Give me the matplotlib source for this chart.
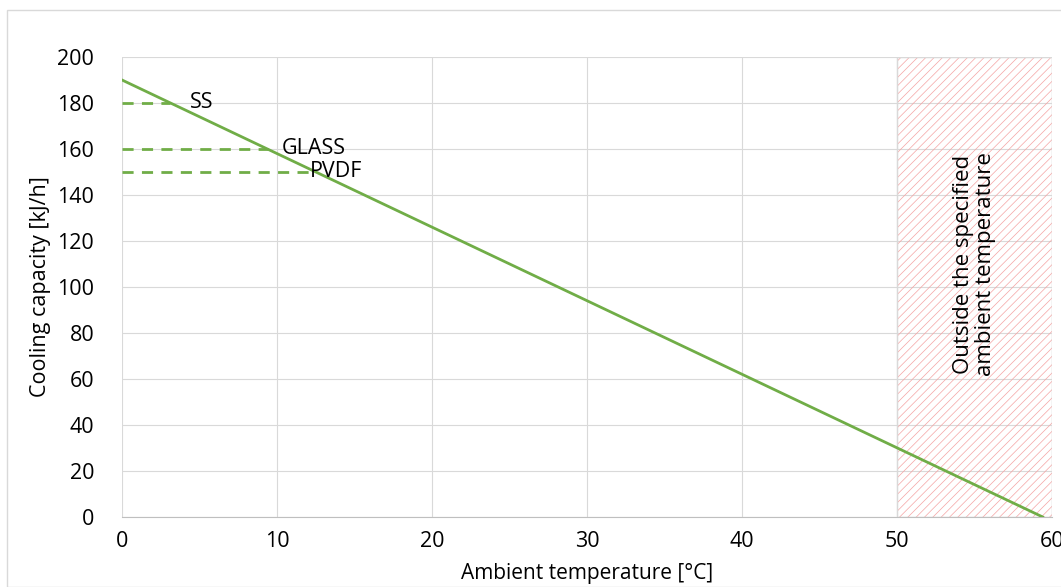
import matplotlib
matplotlib.use("Agg")
import matplotlib.pyplot as plt
from matplotlib.patches import Rectangle

plt.rcParams['font.family'] = ['Open Sans', 'DejaVu Sans']
plt.rcParams['hatch.linewidth'] = 0.5
plt.rcParams['hatch.color'] = '#f5a3a3'

# Data
temps = [0, 59.4]
capacity = [190, 0]
materials = ["SS", "GLASS", "PVDF"]
material_capacity = [180, 160, 150]
material_temp = [3.1, 9.4, 12.5]
label_x = [4.4, 10.3, 12.1]
outside_range = [50, 60]
xticks = [0, 10, 20, 30, 40, 50, 60]
yticks = list(range(0, 201, 20))

green = "#70ad47"

fig = plt.figure(figsize=(10.61, 5.87), dpi=100)
ax = fig.add_axes([0.115, 0.1193, 0.8765, 0.7836])

# frame around chart area
fig.patches.append(Rectangle((7/1061, 0), 1.0, 1 - 10/587, transform=fig.transFigure,
                             fill=False, edgecolor="#d9d9d9", linewidth=1.0))

# Hatched region
ax.axvspan(outside_range[0], outside_range[1], fill=False, edgecolor="#f5a3a3",
           hatch="////", linewidth=0, zorder=1)
ax.axvspan(outside_range[0], outside_range[1], fill=False, edgecolor="#d9d9d9",
           linewidth=1.0, zorder=1)

ax.plot(temps, capacity, color=green, linewidth=2, zorder=3)

for name, cap, t, lx in zip(materials, material_capacity, material_temp, label_x):
    ax.plot([0, t], [cap, cap], color=green, linewidth=2, linestyle=(0, (4, 3)), zorder=3)
    ax.text(lx, cap, name, fontsize=15.5, va="center", ha="left", color="black", zorder=4)

ax.text(55, 110, "Outside the specified\nambient temperature", rotation=90,
        ha="center", va="center", fontsize=16, linespacing=1.05)

ax.set_xlim(0, 60)
ax.set_ylim(0, 200)
ax.set_xticks(xticks)
ax.set_yticks(yticks)
ax.grid(True, color="#d9d9d9", linewidth=0.8, zorder=0)
ax.set_axisbelow(True)
for s in ["top", "right", "left"]:
    ax.spines[s].set_visible(False)
ax.spines["bottom"].set_color("#bfbfbf")
ax.tick_params(axis="both", length=0, labelsize=15.5)
ax.tick_params(axis="x", pad=10)
ax.tick_params(axis="y", pad=20)
ax.set_xlabel("Ambient temperature [°C]", fontsize=15, va="center")
ax.set_ylabel("Cooling capacity [kJ/h]", fontsize=15.5, va="center")
ax.xaxis.set_label_coords(0.5, (517 - 574) / 460)
ax.yaxis.set_label_coords((40 - 122) / 930, 0.5)

fig.savefig("out.png", dpi=100)
